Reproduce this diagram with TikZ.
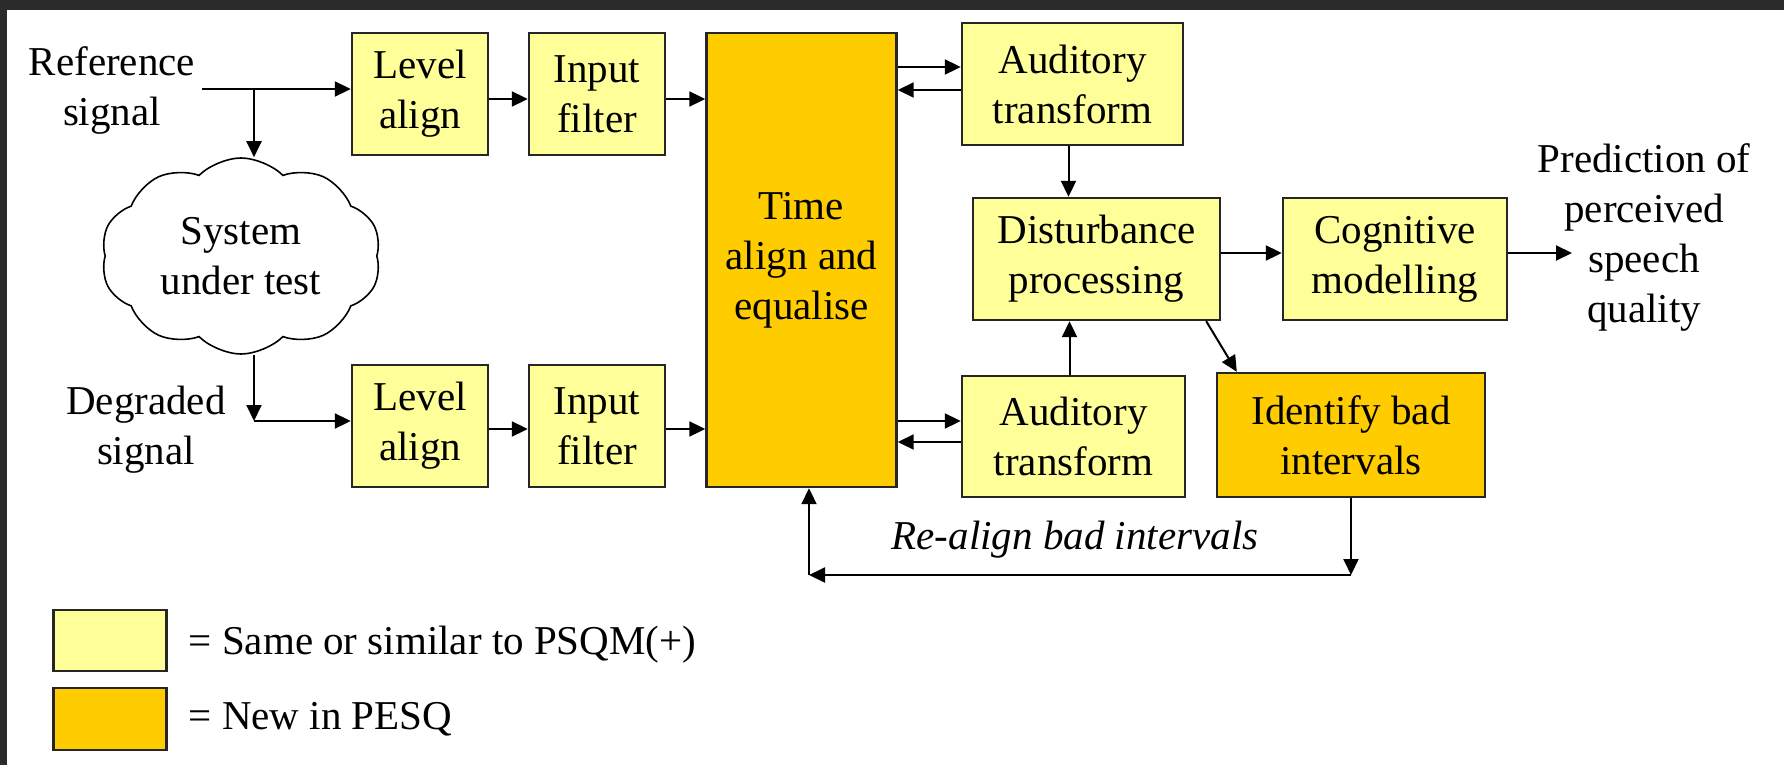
\documentclass[tikz,border=0pt]{standalone}
\usepackage{fontspec}
\setmainfont{Liberation Serif}
\usepackage{tikz}
\usetikzlibrary{positioning}
\usetikzlibrary{shapes.symbols}
\usetikzlibrary{arrows.meta}
\usepackage{xcolor}
\definecolor{oldblock}{RGB}{255,255,153}
\definecolor{newblock}{RGB}{255,204,0}
\definecolor{frameband}{RGB}{43,43,43}

\begin{document}
\begin{tikzpicture}[x=0.5pt, y=-0.5pt,
    font=\fontsize{20.5}{25}\selectfont,
    box/.style={draw=black!85, line width=1.2pt, align=center, inner sep=0pt},
    oldbox/.style={box, fill=oldblock},
    newbox/.style={box, fill=newblock},
    txt/.style={align=center},
    arr/.style={-{Triangle[length=8pt, width=7.5pt]}, line width=1pt}]
    \useasboundingbox (0,0) rectangle (1784,765);
    \fill[white] (0,0) rectangle (1784,765);
    \fill[frameband] (0,0) rectangle (1784,10);
    \fill[frameband] (0,0) rectangle (7,765);

    \node[oldbox, minimum width=68pt, minimum height=61pt] (lvlref) at (420,94) {Level\\align};
    \node[oldbox, minimum width=68pt, minimum height=61pt] (inref) at (597,94) {Input\\filter};
    \node[oldbox, minimum width=68pt, minimum height=61pt] (lvldeg) at (420,426) {Level\\align};
    \node[oldbox, minimum width=68pt, minimum height=61pt] (indeg) at (597,426) {Input\\filter};
    \node[newbox, minimum width=95pt, minimum height=227pt] (timealign) at (801.5,260) {Time\\align and\\equalise};

    \node[oldbox, minimum width=110.5pt, minimum height=61pt] (audref) at (1072.5,84) {Auditory\\transform};
    \node[oldbox, minimum width=123.5pt, minimum height=61pt] (disturb) at (1096.5,259) {Disturbance\\processing};
    \node[oldbox, minimum width=112pt, minimum height=61pt] (cognitive) at (1395,259) {Cognitive\\modelling};
    \node[oldbox, minimum width=111.5pt, minimum height=60.5pt] (auddeg) at (1073.5,436.5) {Auditory\\transform};
    \node[newbox, minimum width=134pt, minimum height=62pt] (badint) at (1351,435) {Identify bad\\intervals};

    \node[txt] (refsig) at (112,90) {Reference\\signal};
    \node[txt] (degsig) at (146,430) {Degraded\\signal};
    \node[cloud, draw, line width=0.8pt, cloud puffs=10, cloud puff arc=90, cloud ignores aspect,
          minimum width=140pt, minimum height=98pt, align=center] (sut) at (241,256) {System\\under test};
    \node[txt] (predict) at (1644,237) {Prediction of\\perceived\\speech\\quality};
    \node[font=\fontsize{20.5}{25}\selectfont\itshape] (realign) at (1075,540) {Re-align bad intervals};

    \node[oldbox, minimum width=56.5pt, minimum height=30.5pt] (keyold) at (110,640.5) {};
    \node[newbox, minimum width=56.5pt, minimum height=31pt] (keynew) at (110,719) {};
    \node[right=7pt of keyold, yshift=-2pt] (keyoldtxt) {= Same or similar to PSQM(+)};
    \node[right=7pt of keynew] (keynewtxt) {= New in PESQ};

    \coordinate (refsplit) at (254,89);
    \coordinate (degsplit) at (254,421);
    \coordinate (fbright) at (1351,575);
    \coordinate (fbleft) at (809,575);
    \coordinate (outend) at (1572,253);

    \draw[arr] (refsig.east |- refsplit) -- (refsplit -| lvlref.west);
    \draw[arr] (refsplit) -- (refsplit |- sut.north);
    \draw[arr] (refsplit |- sut.south) -- (degsplit);
    \draw[arr] (degsplit) -- (degsplit -| lvldeg.west);
    \draw[arr] ([yshift=-2.5pt]lvlref.east) -- ([yshift=-2.5pt]inref.west);
    \draw[arr] ([yshift=-2.5pt]inref.east) -- ([yshift=-2.5pt]inref.east -| timealign.west);
    \draw[arr] ([yshift=-1.5pt]lvldeg.east) -- ([yshift=-1.5pt]indeg.west);
    \draw[arr] ([yshift=-1.5pt]indeg.east) -- ([yshift=-1.5pt]indeg.east -| timealign.west);

    \draw[arr] ([yshift=8.5pt]audref.west -| timealign.east) -- ([yshift=8.5pt]audref.west);
    \draw[arr] ([yshift=-3pt]audref.west) -- ([yshift=-3pt]audref.west -| timealign.east);
    \draw[arr] ([yshift=7.75pt]auddeg.west -| timealign.east) -- ([yshift=7.75pt]auddeg.west);
    \draw[arr] ([yshift=-2.75pt]auddeg.west) -- ([yshift=-2.75pt]auddeg.west -| timealign.east);

    \draw[arr] ([xshift=-2pt]audref.south) -- ([xshift=-2pt]audref.south |- disturb.north);
    \draw[arr] ([xshift=-2pt]auddeg.north) -- ([xshift=-2pt]auddeg.north |- disturb.south);
    \draw[arr] ([yshift=3pt]disturb.east) -- ([yshift=3pt]disturb.east -| cognitive.west);
    \draw[arr] ([yshift=3pt]cognitive.east) -- (outend);
    \draw[arr] ([xshift=-7.5pt]disturb.south east) -- ([xshift=10.5pt]badint.north west);

    \draw[arr] (badint.south) -- (fbright);
    \draw[arr] (fbright) -- (fbleft);
    \draw[arr] (fbleft) -- (fbleft |- timealign.south);
\end{tikzpicture}
\end{document}
